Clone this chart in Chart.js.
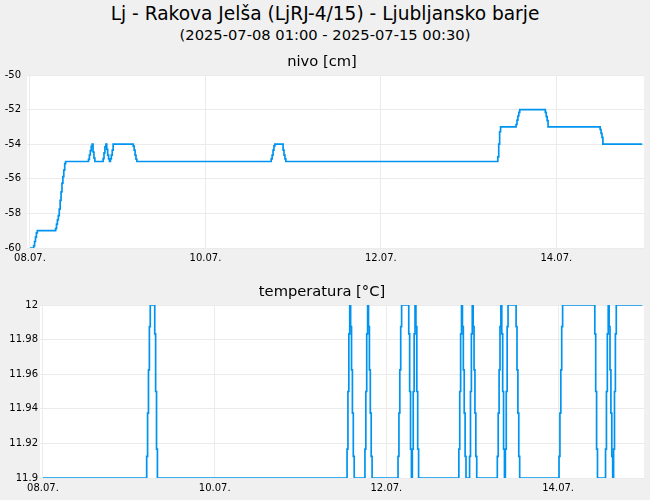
<!DOCTYPE html>
<html>
<head>
<meta charset="utf-8">
<script src="https://cdn.jsdelivr.net/npm/chart.js@4"></script>
<style>
  body { margin: 0; background: #f0f0f0; width: 650px; height: 500px; overflow: hidden; position: relative; font-family: 'DejaVu Sans'; color: #000; }
  #title { position: absolute; left: 0; width: 650px; top: 3.2px; text-align: center; font-size: 18.6px; line-height: 22px; }
  #subtitle { position: absolute; left: 0; width: 650px; top: 26.5px; text-align: center; font-size: 14.7px; line-height: 16px; }
  .box { position: absolute; left: 0; width: 650px; height: 230px; }
</style>
</head>
<body>
<div id="title">Lj - Rakova Jelša (LjRJ-4/15) - Ljubljansko barje</div>
<div id="subtitle">(2025-07-08 01:00 - 2025-07-15 00:30)</div>
<div class="box" style="top:40px"><canvas id="nivo"></canvas></div>
<div class="box" style="top:270px"><canvas id="temp"></canvas></div>
<script>
// x = hours counted from 08.07. 01:00
const xTicks = [0, 48, 96, 144];
const xTickLabels = ['08.07.', '10.07.', '12.07.', '14.07.'];

const nivoTicks = [-60, -58, -56, -54, -52, -50];
const nivoHours = [
  0, 1, 1.25, 1.5, 1.75, 2,
  7, 7.25, 7.5, 7.75, 8, 8.25, 8.5, 8.75, 9, 9.25, 9.5, 9.75,
  16, 16.25, 16.5, 16.75, 17, 17.25, 17.5, 17.75,
  20, 20.25, 20.5, 20.75, 21, 21.25, 21.5, 21.75, 22, 22.25, 22.5, 22.75,
  28.25, 28.5, 28.75, 29, 29.25,
  66, 66.25, 66.5, 66.75, 67, 69.25, 69.5, 69.75, 70,
  128, 128.25, 128.5, 128.75,
  133, 133.25, 133.5, 133.75, 134,
  141, 141.25, 141.5, 141.75,
  156, 156.25, 156.5, 156.75,
  167.5
];
const nivoValues = [
  -60, -59.875, -59.625, -59.375, -59.125, -59,
  -58.875, -58.625, -58.375, -58.125, -57.75, -57.25, -56.75, -56.25, -55.875, -55.5, -55.125, -55,
  -54.875, -54.625, -54.375, -54.125, -54, -54.45, -54.8, -55,
  -54.83, -54.5, -54.15, -54, -54.3, -54.63, -54.85, -55, -54.85, -54.63, -54.34, -54,
  -54.11, -54.34, -54.63, -54.87, -55,
  -54.85, -54.63, -54.34, -54.1, -54, -54.34, -54.63, -54.85, -55,
  -54.73, -54, -53.28, -53,
  -52.86, -52.61, -52.37, -52.16, -52,
  -52.16, -52.41, -52.64, -53,
  -53.15, -53.38, -53.6, -54,
  -54
];

const tempTicks = [11.9, 11.92, 11.94, 11.96, 11.98, 12];
const tempHours = [
  0,
  29, 29.25, 29.5, 29.75, 30, 31.25, 31.5, 31.75, 32,
  85, 85.25, 85.5, 85.75, 86, 86.25, 86.5, 86.75, 87,
  90, 90.25, 90.5, 90.75, 91, 91.25, 91.5, 91.75, 92,
  99.25, 99.5, 99.75, 100, 100.25, 102.25, 102.5, 102.75, 103,
  103.25, 103.5, 103.75, 104, 104.25, 104.5, 104.75, 105,
  116.25, 116.5, 116.75, 117, 117.25, 117.5, 117.75, 118, 118.25,
  119.25, 119.5, 119.75, 120, 120.25, 120.5, 120.75, 121, 121.25,
  127, 127.25, 127.5, 127.75, 128, 128.25, 128.5, 128.75, 129,
  129.25, 129.5, 129.75, 130, 132.25, 132.5, 132.75, 133, 133.25,
  144.25, 144.5, 144.75, 145, 145.25, 154.25, 154.5, 154.75, 155,
  157.25, 157.5, 157.75, 158, 158.25, 158.5, 158.75, 159, 159.25,
  159.5, 159.75, 160, 160.25,
  167.5
];
const tempValues = [
  11.9,
  11.9125, 11.9375, 11.9625, 11.9875, 12, 11.9833, 11.95, 11.9167, 11.9,
  11.9167, 11.95, 11.9833, 12, 11.9875, 11.9625, 11.9375, 11.9125, 11.9,
  11.9167, 11.95, 11.9833, 12, 11.9875, 11.9625, 11.9375, 11.9125, 11.9,
  11.9125, 11.9375, 11.9625, 11.9875, 12, 11.9833, 11.95, 11.9167, 11.9,
  11.9167, 11.95, 11.9833, 12, 11.9875, 11.95, 11.9167, 11.9,
  11.9167, 11.95, 11.9833, 12, 11.9875, 11.9625, 11.9375, 11.9125, 11.9,
  11.9125, 11.95, 11.9833, 12, 11.9875, 11.9625, 11.9375, 11.9125, 11.9,
  11.9125, 11.9375, 11.9625, 11.9875, 12, 11.9833, 11.95, 11.9167, 11.9,
  11.9167, 11.95, 11.9875, 12, 11.9875, 11.9625, 11.9375, 11.9125, 11.9,
  11.9125, 11.9375, 11.9625, 11.9875, 12, 11.9833, 11.95, 11.9167, 11.9,
  11.9167, 11.95, 11.9833, 12, 11.9875, 11.9625, 11.9375, 11.9125, 11.9,
  11.9167, 11.95, 11.9833, 12,
  12
];

Chart.defaults.font.family = "'DejaVu Sans'";
Chart.defaults.color = '#000';

// white plot area on the grey page
const whiteArea = {
  id: 'whiteArea',
  beforeDraw(chart) {
    const { ctx, chartArea: a } = chart;
    ctx.save();
    ctx.fillStyle = '#fff';
    ctx.fillRect(a.left, a.top, a.right - a.left, a.bottom - a.top);
    ctx.restore();
  }
};

function drawStepChart(canvasId, title, hours, values, yTicks, axisWidth, labelPad) {
  const points = hours.map((h, i) => ({ x: h, y: values[i] }));
  new Chart(document.getElementById(canvasId), {
    type: 'line',
    data: {
      datasets: [{
        data: points,
        borderColor: '#0094f0',
        borderWidth: 1.7,
        pointRadius: 0,
        stepped: true,
        fill: false,
      }],
    },
    options: {
      responsive: true,
      maintainAspectRatio: false,
      animation: false,
      layout: { padding: { right: 6 } },
      plugins: {
        legend: { display: false },
        tooltip: { enabled: false },
        title: {
          display: true,
          text: title,
          font: { size: 14.7, weight: 'normal' },
          padding: { top: 13.2, bottom: 4.16 },
        },
      },
      scales: {
        x: {
          type: 'linear',
          min: -0.82,
          max: 168,
          afterBuildTicks: s => { s.ticks = xTicks.map(v => ({ value: v })); },
          afterFit: s => { s.height = 22; },
          ticks: {
            font: { size: 10 },
            padding: 4,
            maxRotation: 0,
            autoSkip: false,
            callback: (v, i) => xTickLabels[i],
          },
          grid: { color: '#ebebeb', drawTicks: false },
          border: { display: false },
        },
        y: {
          min: yTicks[0],
          max: yTicks[yTicks.length - 1],
          afterBuildTicks: s => { s.ticks = yTicks.map(v => ({ value: v })); },
          afterFit: s => { s.width = axisWidth; },
          ticks: {
            font: { size: 10 },
            padding: labelPad,
            callback: v => String(+v.toFixed(2)),
          },
          grid: { color: '#ebebeb', drawTicks: false },
          border: { display: false },
        },
      },
    },
    plugins: [whiteArea],
  });
}

drawStepChart('nivo', 'nivo [cm]', nivoHours, nivoValues, nivoTicks, 27, 6);
drawStepChart('temp', 'temperatura [°C]', tempHours, tempValues, tempTicks, 40, 2);
</script>
</body>
</html>
